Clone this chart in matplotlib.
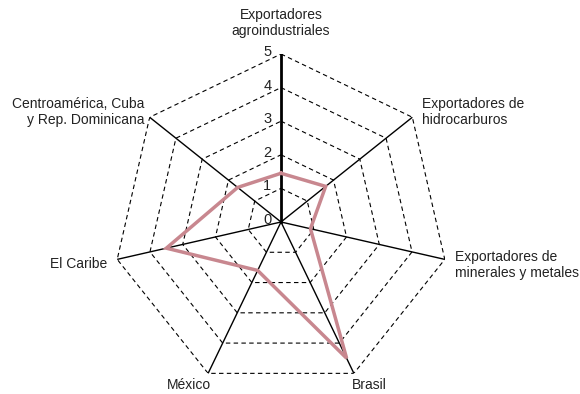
import numpy as np
import matplotlib.pyplot as plt

plt.rcParams['font.family'] = ['Liberation Sans', 'DejaVu Sans']

# clockwise from the top
categories = [
    'Exportadores\nagroindustriales',
    'Exportadores de\nhidrocarburos',
    'Exportadores de\nminerales y metales',
    'Brasil',
    'México',
    'El Caribe',
    'Centroamérica, Cuba\ny Rep. Dominicana',
]
values = [1.45, 1.7, 0.9, 4.5, 1.6, 3.5, 1.65]
levels = [1, 2, 3, 4, 5]
tick_labels = ['0', '1', '2', '3', '4', '5']

# label placement: (offset x, offset y) in points, ha, va
LABEL_STYLE = [
    ((0, 11.5), 'center', 'bottom'),
    ((7, 3.6), 'left', 'center'),
    ((7, -4.3), 'left', 'center'),
    ((-1.5, -3), 'left', 'top'),
    ((2, -3), 'right', 'top'),
    ((-7, -3), 'right', 'center'),
    ((-3.6, 3.6), 'right', 'center'),
]

LINE_COLOR = '#C8878F'

n = len(categories)
theta = np.arange(n) * 2 * np.pi / n
theta_closed = np.append(theta, theta[0])

fig = plt.figure(figsize=(5.8, 3.94), dpi=100)
cx, cy, rad = 281, 222, 168
ax = fig.add_axes([(cx - rad) / 580, (394 - cy - rad) / 394, 2 * rad / 580, 2 * rad / 394],
                  projection='polar')
ax.set_theta_offset(np.pi / 2)
ax.set_theta_direction(-1)
ax.set_ylim(0, 5)
ax.grid(False)
ax.set_xticks([])
ax.set_yticks([])
ax.spines['polar'].set_visible(False)
ax.patch.set_visible(False)

# dashed heptagon grid
for lv in levels:
    ax.plot(theta_closed, [lv] * (n + 1), color='black', lw=0.8,
            linestyle=(0, (4, 3)), zorder=1)

# spokes
for i, t in enumerate(theta):
    ax.plot([t, t], [0, 5], color='black', lw=2.0 if i == 0 else 1.0, zorder=2)

# radial tick labels along the top spoke
for k, lab in enumerate(tick_labels):
    ax.annotate(lab, xy=(0, k), xytext=(-7, 1.5), textcoords='offset points',
                ha='right', va='center', fontsize=10.5, color='#222222')

# data line
ax.plot(theta_closed, values + values[:1], color=LINE_COLOR, lw=2.5,
        solid_joinstyle='miter', zorder=3)

# category labels
for t, lab, (off, ha, va) in zip(theta, categories, LABEL_STYLE):
    ax.annotate(lab, xy=(t, 5), xytext=off, textcoords='offset points',
                ha=ha, va=va, fontsize=10, color='#222222', annotation_clip=False)

fig.savefig('out.png', dpi=100)
